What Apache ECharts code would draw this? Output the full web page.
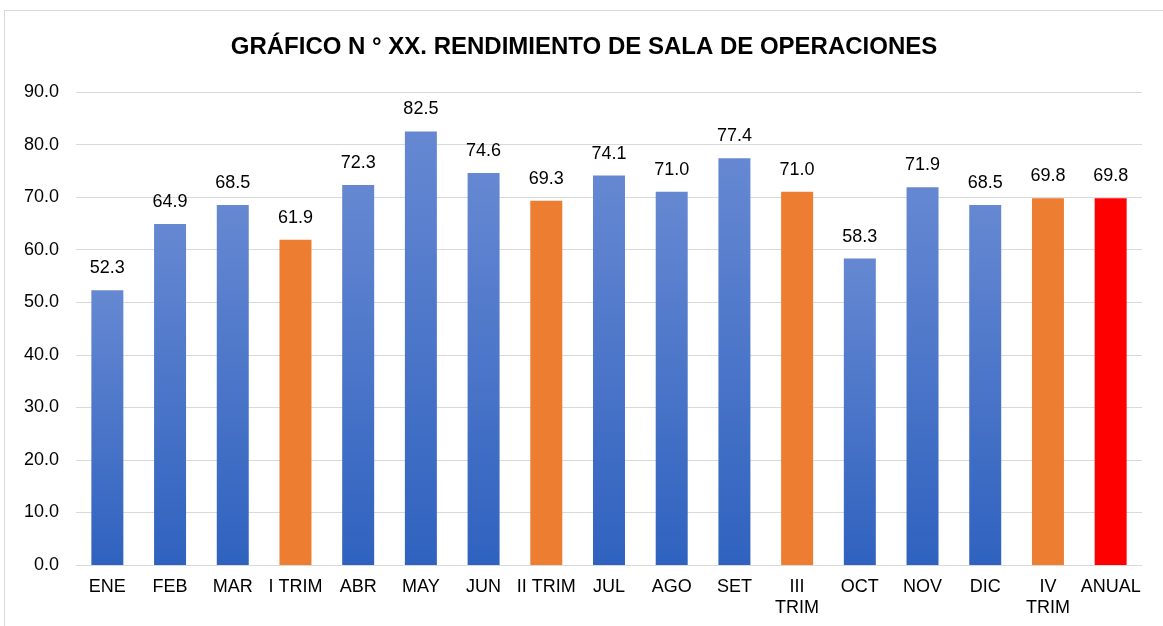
<!DOCTYPE html>
<html>
<head>
<meta charset="utf-8">
<script src="https://cdn.jsdelivr.net/npm/echarts@6/dist/echarts.min.js"></script>
<style>
  html, body { margin: 0; padding: 0; background: #fff; }
  #chart-container { position: absolute; left: 4px; top: 10px; width: 1159px; height: 616px;
    border: 1px solid #d9d9d9; border-right: none; border-bottom: none; box-sizing: border-box; }
</style>
</head>
<body>
<div id="chart-container"></div>
<script>
const categories = ['ENE', 'FEB', 'MAR', 'I TRIM', 'ABR', 'MAY', 'JUN', 'II TRIM', 'JUL', 'AGO', 'SET', 'III TRIM', 'OCT', 'NOV', 'DIC', 'IV TRIM', 'ANUAL'];
const values = [52.3, 64.9, 68.5, 61.9, 72.3, 82.5, 74.6, 69.3, 74.1, 71.0, 77.4, 71.0, 58.3, 71.9, 68.5, 69.8, 69.8];
const kinds = ['m', 'm', 'm', 't', 'm', 'm', 'm', 't', 'm', 'm', 'm', 't', 'm', 'm', 'm', 't', 'a'];
const wrapLabels = ['III TRIM', 'IV TRIM'];

const blue = new echarts.graphic.LinearGradient(0, 0, 0, 1, [
  { offset: 0, color: '#6688d2' },
  { offset: 1, color: '#2f62bf' }
]);
const colorFor = { m: blue, t: '#ed7d31', a: '#ff0000' };

function createChart(id) {
  const dom = document.getElementById(id);
  const myChart = echarts.init(dom, null, { renderer: 'canvas' });
  const data = values.map((v, i) => ({
    value: v,
    itemStyle: { color: colorFor[kinds[i]] }
  }));
  const option = {
    animation: false,
    title: {
      text: 'GRÁFICO N ° XX. RENDIMIENTO DE SALA DE OPERACIONES',
      left: 'center',
      top: 19,
      textStyle: { fontFamily: 'Liberation Sans', fontWeight: 'bold', fontSize: 24, color: '#000' }
    },
    grid: { left: 71, right: 21, top: 81, bottom: 61 },
    xAxis: {
      type: 'category',
      data: categories,
      axisLine: { lineStyle: { color: '#d9d9d9', width: 1 } },
      axisTick: { show: false },
      axisLabel: {
        interval: 0,
        margin: 12,
        fontFamily: 'Liberation Sans',
        fontSize: 18,
        lineHeight: 21,
        color: '#000',
        formatter: v => wrapLabels.includes(v) ? v.replace(' ', '\n') : v
      }
    },
    yAxis: {
      type: 'value',
      min: 0,
      max: 90,
      interval: 10,
      axisLine: { show: false },
      axisTick: { show: false },
      splitLine: { lineStyle: { color: '#d9d9d9', width: 1 } },
      axisLabel: {
        margin: 17,
        fontFamily: 'Liberation Sans',
        fontSize: 18,
        color: '#000',
        formatter: v => v.toFixed(1)
      }
    },
    series: [
      {
        type: 'bar',
        data: data,
        barWidth: '51%',
        label: {
          show: true,
          position: 'top',
          distance: 13,
          fontFamily: 'Liberation Sans',
          fontSize: 18,
          color: '#000',
          formatter: p => p.value.toFixed(1)
        }
      }
    ]
  };
  myChart.setOption(option);
  window.addEventListener('resize', myChart.resize);
}

createChart('chart-container');
</script>
</body>
</html>
